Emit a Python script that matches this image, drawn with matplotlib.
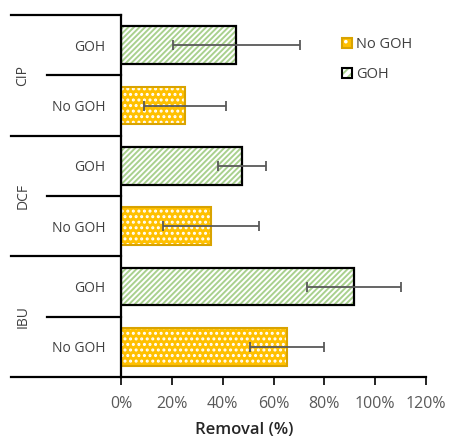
import matplotlib
matplotlib.use("Agg")
import matplotlib.pyplot as plt
from matplotlib.patches import Patch
from matplotlib.legend_handler import HandlerTuple

plt.rcParams['font.family'] = ['Open Sans', 'DejaVu Sans']
plt.rcParams['hatch.linewidth'] = 1.4

groups = ["IBU", "DCF", "CIP"]
conditions = ["No GOH", "GOH"]
# values per group (bottom-to-top order): No GOH, GOH
removal = {"IBU": [65.4, 91.7], "DCF": [35.4, 47.6], "CIP": [25.2, 45.3]}
errors = {"IBU": [14.5, 18.5], "DCF": [18.7, 9.5], "CIP": [16.0, 25.0]}
xticks = [0, 20, 40, 60, 80, 100, 120]

W, H = 449, 438
fig = plt.figure(figsize=(W / 100, H / 100), dpi=100)
ax = fig.add_axes([121 / W, 1 - 377 / H, (426 - 121) / W, (377 - 15) / H])

yellow = '#FFC000'
yellow_edge = '#D9A300'
green = '#A9D18E'
errc = '#595959'
bh = 0.62

pos = 0
ylabels = []
for g in groups:
    for ci, c in enumerate(conditions):
        v = removal[g][ci]
        e = errors[g][ci]
        if c == "No GOH":
            ax.barh(pos, v, height=bh, color=yellow, edgecolor='white', hatch='...', linewidth=0)
            ax.barh(pos, v, height=bh, fill=False, edgecolor=yellow_edge, linewidth=1.5)
        else:
            ax.barh(pos, v, height=bh, color='white', edgecolor=green, hatch='//////', linewidth=0)
            ax.barh(pos, v, height=bh, fill=False, edgecolor='black', linewidth=1.6)
        ax.errorbar(v, pos, xerr=e, fmt='none', ecolor=errc, elinewidth=1.3, capsize=3.5, capthick=1.3)
        ylabels.append(c)
        pos += 1

ax.set_ylim(-0.5, 5.5)
ax.set_xlim(0, 120)
ax.set_xticks(xticks)
ax.set_xticklabels([f"{t}%" for t in xticks], color=errc, fontsize=11.5)
ax.set_yticks(range(6))
ax.set_yticklabels(ylabels, color='#404040', fontsize=10)
ax.tick_params(axis='y', length=0, pad=11.5)
ax.tick_params(axis='x', direction='out', length=6, width=1.2, color='black', pad=8)
for s in ['top', 'right']:
    ax.spines[s].set_visible(False)
for s in ['left', 'bottom']:
    ax.spines[s].set_linewidth(1.6)

# group separators and group labels
tr = ax.get_yaxis_transform()
for yv in [5.5, 3.5, 1.5, -0.5]:
    ax.plot([-110 / 305, 0], [yv, yv], transform=tr, color='black', lw=1.6, clip_on=False)
for yv in [4.5, 2.5, 0.5]:
    ax.plot([-74 / 305, 0], [yv, yv], transform=tr, color='black', lw=1.6, clip_on=False)
for gi, g in enumerate(groups):
    ax.text(-98 / 305, 2 * gi + 0.5, g, transform=tr, rotation=90, ha='center', va='center',
            color='#404040', fontsize=10)

fig.text(244 / W, 1 - 430 / H, "Removal (%)", ha='center', va='center', fontsize=12,
         fontweight='semibold', color='#262626')

h_no = (Patch(facecolor=yellow, edgecolor='white', hatch='..', linewidth=0),
        Patch(fill=False, edgecolor=yellow_edge, linewidth=1.5))
h_go = (Patch(facecolor='white', edgecolor=green, hatch='////', linewidth=0),
        Patch(fill=False, edgecolor='black', linewidth=1.5))
leg = fig.legend(handles=[h_no, h_go], labels=['No GOH', 'GOH'],
                 handler_map={tuple: HandlerTuple(ndivide=1, pad=0)},
                 loc='upper left', bbox_to_anchor=(342 / W, 1 - 37 / H),
                 frameon=False, fontsize=10.5, handlelength=0.7, handleheight=0.7,
                 handletextpad=0.25, labelspacing=1.05, borderaxespad=0, borderpad=0)
for t in leg.get_texts():
    t.set_color('#404040')

fig.savefig("out.png", dpi=100)
